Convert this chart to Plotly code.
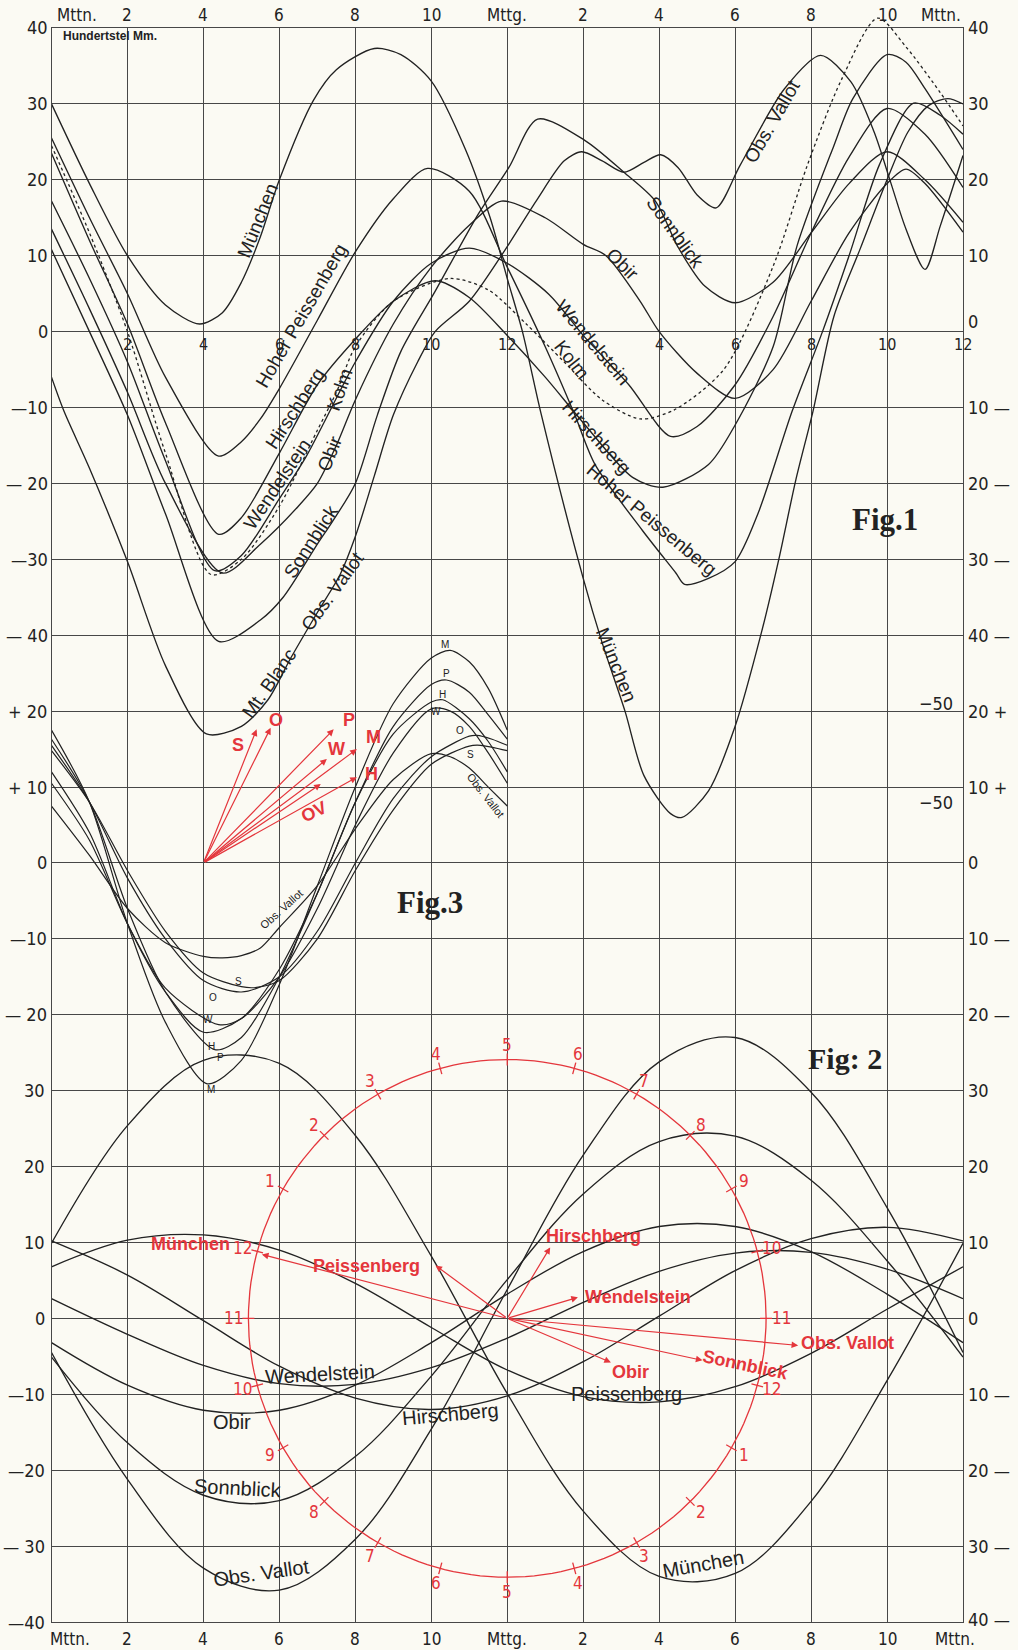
import math
import plotly.graph_objects as go

# ---------------- canvas / ruled grid geometry ----------------
W, H = 1018, 1650
X0_PX, X24_PX = 51.5, 963.0          # pixel x of 0 h and 24 h
TOP_PX, BOT_PX = 28.0, 1622.0        # top and bottom ruled line
PX_H = (X24_PX - X0_PX) / 24.0       # pixels per hour
PX_U = (BOT_PX - TOP_PX) / 210.0     # pixels per unit (21 intervals of 10)
OVERSHOOT_PX = 20.0                  # room above the top line for the dotted Kolm curve

F1_RANGE = [-170, 40]    # Fig. 1 scale (top)
F3_RANGE = [-100, 110]   # Fig. 3 scale (middle)
F2_RANGE = [-40, 170]    # Fig. 2 scale (bottom)

INK = "#222222"
GRID = "#474747"
RED = "#e4363c"
PAPER = "#fbfaf3"
SANS = "Liberation Sans Narrow, DejaVu Sans Condensed, Liberation Sans, Arial, sans-serif"
SANS_W = "Liberation Sans, Arial, sans-serif"
SERIF = "Liberation Serif, DejaVu Serif, serif"

# ---------------- Fig. 1 : daily course (hundredths of mm) ----------------
F1_MUENCHEN_T = [0, 1, 2, 3, 3.9, 4.5, 5, 5.5, 6, 6.9, 7.5, 8.5, 9.2, 10, 10.9, 11.55, 12, 12.4, 12.9, 14, 14.5,
                 15.1, 15.6, 16.3, 16.6, 17.3, 18, 18.7, 19.15, 19.6, 20.05, 20.6, 21.3, 22, 22.55, 23.1, 23.6, 24]
F1_MUENCHEN_V = [30, 19.5, 10, 3.5, 1.0, 2.5, 6.5, 12.5, 20, 30.5, 34.5, 37.3, 36.5, 33, 24, 15, 7, 0, -11, -32.5, -41,
                 -50, -58.5, -63.5, -64, -60.5, -52, -39.5, -30, -19.5, -10.5, 2, 11, 20, 26.3, 29.8, 30.7, 30]

F1_PEISS_T = [0, 1, 2, 3, 4.4, 5, 5.5, 6, 7, 8, 9, 9.9, 11, 12, 13, 13.78, 14.31, 15.56, 16.44, 16.67, 17.3, 18,
              18.6, 19.5, 20.3, 21, 21.8, 22.7, 23.4, 24]
F1_PEISS_V = [25.5, 15, 5, -6, -16.4, -14.5, -11.5, -7.5, 1.5, 10.5, 17.5, 21.5, 18.5, 8.5, -2, -11, -17.5, -26.2,
              -31.8, -33.3, -32.5, -30.3, -24, -10.5, 0, 10, 22, 30.1, 28.5, 26]

F1_HIRSCH_T = [0, 1, 2, 3, 4.4, 5, 6, 7, 8, 9, 10.1, 11, 12, 13, 14, 15.3, 16.1, 17.3, 18, 19, 19.63, 20.6, 21.1,
               22, 22.5, 23, 24]
F1_HIRSCH_V = [23.5, 12, 1, -12, -26.7, -24.5, -16, -7, -1, 4, 6.7, 4.5, -0.5, -6, -12, -19.2, -20.5, -17.5, -12.3,
               -2, 11.3, 24.5, 30.7, 36.5, 35.5, 32, 24]

F1_WENDEL_T = [0, 1, 2, 3, 4.3, 5, 6, 6.7, 8, 9, 10, 11, 12, 13.1, 14, 15.2, 16.3, 17, 18, 19, 20, 21, 22, 23, 24]
F1_WENDEL_V = [17.2, 7, -4, -17, -31.5, -29.5, -22, -16.5, -4, 4, 9, 11, 9, 4.9, -0.5, -7, -13.8, -12.5, -7, 2, 13,
               23, 29.4, 26, 19]

F1_KOLM_T = [0, 1, 2, 3, 4.2, 5, 6, 7, 7.5, 8, 9, 10.5, 11.5, 12.5, 13.5, 14.5, 15.5, 16.4, 17.7, 19, 19.9, 20.8,
             21.75, 22.5, 23.4, 24]
F1_KOLM_V = [24.5, 13, 0, -16, -32, -30, -23, -13, -8, -2, 4, 7, 5.5, 1, -4, -9, -11.5, -10.3, -5, 8.6, 21.9, 33.2,
             41.3, 37.5, 31.5, 27.1]

F1_OBIR_T = [0, 1, 2, 3, 4.5, 5.5, 6.5, 7, 7.5, 8, 9, 10, 11, 11.85, 13, 14, 14.6, 15.5, 16, 17, 18, 19, 20, 21, 22,
             22.5, 23, 24]
F1_OBIR_V = [13.5, 3, -8, -20, -31.8, -28, -23, -20, -15, -9, 1, 8.5, 14, 17.2, 15, 11.5, 10, 4, 0, -5.5, -8.8, -5,
             4, 13, 19.5, 21.4, 19.5, 13.1]

F1_SONN_T = [0, 1, 2, 3, 4.4, 5.5, 6.1, 7, 7.4, 8, 8.58, 9.2, 10.1, 11.24, 12.04, 12.8, 14.04, 15.07, 15.9, 16.5,
             17.2, 18, 19, 20, 21, 22, 23, 24]
F1_SONN_V = [10.8, 0, -11, -24, -40.8, -38, -35, -28, -25, -20, -11, -2.6, 5.3, 15.5, 21.6, 28, 25.2, 21, 17.2, 11.1,
             6, 3.8, 6.5, 13, 19.5, 23.7, 20, 14.4]

F1_VALLOT_T = [0, 0.33, 1, 2, 3, 4.08, 5, 5.7, 6.3, 7, 7.6, 8, 8.5, 9, 9.64, 10.1, 11, 11.87, 12.76, 13.5, 13.96,
               14.5, 15.07, 15.6, 16.04, 16.5, 17, 17.5, 18.13, 19.3, 20.25, 21.05, 21.66, 22.1, 22.5, 23, 23.4, 24]
F1_VALLOT_V = [-6, -10.5, -18, -30.3, -44, -53, -52, -48.5, -43, -37, -32, -27, -19, -11, -4, 0, 4, 10.2, 17.2, 22.5,
               23.7, 22.5, 21, 22.3, 23.3, 21.6, 18, 16.3, 21.9, 32, 36.4, 32.9, 26.3, 19.6, 13.5, 8.2, 13.9, 23.2]

# ---------------- Fig. 3 : half-day wave (0..12 h) ----------------
F3_M_T = [0, 1, 2, 3, 4.1, 5, 6, 7, 8, 9, 10, 10.5, 11, 11.5, 12]
F3_M_V = [17.5, 8, -8, -21, -29.1, -26, -16, -3, 10, 21, 27, 28, 26.5, 23, 17.5]
F3_P_T = [0, 1, 2, 3, 4.3, 5, 6, 7, 8, 9, 10, 10.4, 11, 11.5, 12]
F3_P_V = [16.3, 8, -6, -17, -24.6, -23, -15, -4, 8, 18, 23.5, 24.1, 22.5, 19.5, 16.3]
F3_H_T = [0, 1, 2, 3, 4.0, 5, 6, 7, 8, 9, 10, 10.3, 11, 11.5, 12]
F3_H_V = [12, 4, -8, -17, -22.3, -20.5, -14, -4, 8, 17, 21.2, 21.5, 19, 16, 12]
F3_W_T = [0, 1, 2, 3, 4.4, 5, 6, 7, 8, 9, 10, 10.5, 11, 11.5, 12]
F3_W_V = [10.5, 3, -8, -16.5, -21.3, -20.5, -15, -6, 5, 14.5, 20.3, 20, 18, 14.5, 10.5]
F3_O_T = [0, 1, 2, 3, 4, 5, 6, 7, 8, 9, 10, 11, 11.2, 11.6, 12]
F3_O_V = [15.5, 8, -2, -10, -15.5, -17, -15, -9, 0, 8.5, 14, 16.7, 16.8, 16.3, 15.5]
F3_S_T = [0, 1, 2, 3, 4, 5, 5.4, 6, 7, 8, 9, 10, 11, 11.3, 12]
F3_S_V = [14.8, 8, -1, -9, -14.5, -16.3, -16.4, -15.5, -10, -1, 7, 13, 15.4, 15.5, 14.8]
F3_OV_T = [0, 1, 2, 3, 4, 4.5, 5, 5.5, 6, 7, 8, 9, 10, 10.5, 11, 11.5, 12]
F3_OV_V = [7.5, 1, -6, -10.5, -12.3, -12.5, -12.2, -11.2, -8.5, -3, 4.5, 11, 14.4, 14, 12.5, 10, 7.5]

# red vectors of Fig. 3 (from 4 h / 0), tips and letters
F3_VEC_ORIGIN = (4.0, 0.0)
F3_VEC_NAMES = ["S", "O", "P", "W", "OV", "M", "H"]
F3_VEC_TIP_H = [5.40, 5.77, 7.43, 7.25, 7.09, 8.04, 8.04]
F3_VEC_TIP_V = [17.6, 17.8, 17.6, 13.7, 10.4, 15.0, 11.3]
F3_VEC_LAB_H = [4.92, 5.90, 7.83, 7.51, 6.90, 8.49, 8.43]
F3_VEC_LAB_V = [15.5, 18.8, 18.8, 15.0, 6.7, 16.6, 11.7]

# ---------------- Fig. 2 : whole-day wave ----------------
F2_T = [0, 2, 4, 6, 8, 10, 12, 14, 16, 18, 20, 22, 24]
F2_MUENCHEN = [9.9, 25.4, 34.0, 33.6, 24.1, 8.2, -9.9, -25.4, -34.0, -33.6, -24.1, -8.2, 9.9]
F2_PEISS = [6.8, 10.3, 11.0, 9.0, 4.6, -1.2, -6.8, -10.3, -11.0, -9.0, -4.6, 1.2, 6.8]
F2_HIRSCH = [10.2, 5.7, -0.3, -6.3, -10.5, -12.0, -10.2, -5.7, 0.3, 6.3, 10.5, 12.0, 10.2]
F2_WENDEL = [2.6, -2.1, -6.2, -8.6, -8.7, -6.5, -2.6, 2.1, 6.2, 8.6, 8.7, 6.5, 2.6]
F2_OBIR = [-3.2, -8.8, -12.1, -12.1, -8.8, -3.2, 3.2, 8.8, 12.1, 12.1, 8.8, 3.2, -3.2]
F2_SONN = [-5.1, -16.4, -23.3, -24.0, -18.2, -7.6, 5.1, 16.4, 23.3, 24.0, 18.2, 7.6, -5.1]
F2_VALLOT = [-4.5, -21.2, -32.9, -35.8, -29.1, -14.6, 3.8, 21.5, 33.8, 37.0, 29.8, 14.6, -4.5]

# red vectors of Fig. 2 (from 12 h / 0)
F2_VEC_ORIGIN = (12.0, 0.0)
F2_VEC_NAMES = ["Hirschberg", "Wendelstein", "Peissenberg", "Obir", "Sonnblick", "Obs. Vallot", "München"]
F2_VEC_TIP_H = [13.13, 13.86, 10.11, 14.73, 17.14, 19.66, 5.54]
F2_VEC_TIP_V = [9.35, 2.77, 6.98, -5.8, -5.53, -3.56, 8.43]
F2_VEC_LAB_H = [14.26, 15.44, 8.30, 15.24, 18.28, 20.96, 3.65]
F2_VEC_LAB_V = [10.9, 2.8, 6.9, -7.0, -6.2, -3.2, 9.8]
F2_VEC_LAB_ANG = [0, 0, 0, 0, 12, 0, 0]

# clock circle of Fig. 2
CLOCK_R = 34.1                     # radius in Fig. 2 units
CLOCK_LABELS = ["5", "4", "3", "2", "1", "12", "11", "10", "9", "8", "7", "6",
                "5", "4", "3", "2", "1", "12", "11", "10", "9", "8", "7", "6"]   # from top, counter-clockwise

# ---------------- axis texts ----------------
HOUR_TICKS = [0, 2, 4, 6, 8, 10, 12, 14, 16, 18, 20, 22, 24]
HOUR_TEXT = ["Mttn.", "2", "4", "6", "8", "10", "Mttg.", "2", "4", "6", "8", "10", "Mttn."]
F1_MID_H = [2, 4, 6, 8, 10, 12, 16, 18, 20, 22, 24]
F1_MID_TEXT = ["2", "4", "6", "8", "10", "12", "4", "6", "8", "10", "12"]

LEFT_F1_V = [40, 30, 20, 10, 0, -10, -20, -30, -40]
LEFT_F1_T = ["40", "30", "20", "10", "0", "—10", "— 20", "—30", "— 40"]
LEFT_F3_V = [20, 10, 0, -10, -20]
LEFT_F3_T = ["+ 20", "+ 10", "0", "—10", "— 20"]
LEFT_F2_V = [30, 20, 10, 0, -10, -20, -30, -40]
LEFT_F2_T = ["30", "20", "10", "0", "—10", "—20", "— 30", "—40"]
RIGHT_F1_V = [40, 30, 20, 10, -10, -20, -30, -40]
RIGHT_F1_T = ["40", "30", "20", "10", "10 —", "20 —", "30 —", "40 —"]
RIGHT_F3_V = [20, 10, 0, -10, -20]
RIGHT_F3_T = ["20 +", "10 +", "0", "10 —", "20 —"]
RIGHT_F2_V = [30, 20, 10, 0, -10, -20, -30, -40]
RIGHT_F2_T = ["30", "20", "10", "0", "10 —", "20 —", "30 —", "40 —"]

F1_CURVE_LABELS = [
    ("München", 5.42, 14.7, -68), ("Hoher Peissenberg", 6.58, 2.1, -60), ("Hirschberg", 6.41, -10.1, -57),
    ("Kolm", 7.57, -7.7, -71), ("Wendelstein", 5.93, -20.1, -56), ("Obir", 7.32, -16.0, -68),
    ("Sonnblick", 6.84, -27.7, -57), ("Obs. Vallot", 7.40, -34.3, -54), ("Mt. Blanc", 5.73, -46.4, -55),
    ("Obs. Vallot", 18.97, 27.7, -60), ("Sonnblick", 16.43, 13.1, 54), ("Obir", 15.04, 8.8, 45),
    ("Wendelstein", 14.26, -1.4, 50), ("Kolm", 13.69, -3.7, 52), ("Hirschberg", 14.36, -13.9, 48),
    ("Hoher Peissenberg", 15.80, -24.8, 40), ("München", 14.86, -43.9, 68),
]
F3_CURVE_LABELS = [
    ("M", 10.37, 28.8, 0), ("P", 10.40, 24.9, 0), ("H", 10.30, 22.2, 0), ("W", 10.13, 19.9, 0),
    ("O", 10.76, 17.5, 0), ("S", 11.03, 14.3, 0), ("Obs. Vallot", 11.42, 8.9, 52),
    ("Obs. Vallot", 6.06, -6.1, -42), ("S", 4.92, -15.6, 0), ("O", 4.26, -17.7, 0), ("W", 4.13, -20.6, 0),
    ("H", 4.21, -24.2, 0), ("P", 4.45, -25.6, 0), ("M", 4.21, -29.8, 0),
]
F2_CURVE_LABELS = [
    ("München", 17.15, -32.3, -10), ("Obs. Vallot", 5.52, -33.6, -8), ("Sonnblick", 4.90, -22.4, 3),
    ("Obir", 4.76, -13.7, 0), ("Wendelstein", 7.07, -7.3, -3), ("Hirschberg", 10.50, -12.6, -5),
    ("Peissenberg", 15.13, -9.9, 0),
]

# ---------------- build figure ----------------
fig = go.Figure()


def curve(t, v, yaxis, dash="solid", width=1.35, color=INK, smooth=0.8, xaxis="x"):
    fig.add_trace(go.Scatter(x=t, y=v, xaxis=xaxis, yaxis=yaxis, mode="lines", hoverinfo="skip",
                             showlegend=False,
                             line=dict(color=color, width=width, dash=dash, shape="spline", smoothing=smooth)))


for t, v in [(F1_MUENCHEN_T, F1_MUENCHEN_V), (F1_PEISS_T, F1_PEISS_V), (F1_HIRSCH_T, F1_HIRSCH_V),
             (F1_WENDEL_T, F1_WENDEL_V), (F1_OBIR_T, F1_OBIR_V), (F1_SONN_T, F1_SONN_V),
             (F1_VALLOT_T, F1_VALLOT_V)]:
    curve(t, v, "y")
# Kolm rises above the top ruled line: separate, taller (invisible) axis pair with identical scale
curve(F1_KOLM_T, F1_KOLM_V, "y4", dash="dot", width=1.3, xaxis="x2")

for t, v in [(F3_M_T, F3_M_V), (F3_P_T, F3_P_V), (F3_H_T, F3_H_V), (F3_W_T, F3_W_V), (F3_O_T, F3_O_V),
             (F3_S_T, F3_S_V), (F3_OV_T, F3_OV_V)]:
    curve(t, v, "y2", width=1.2)

for v in [F2_MUENCHEN, F2_PEISS, F2_HIRSCH, F2_WENDEL, F2_OBIR, F2_SONN, F2_VALLOT]:
    curve(F2_T, v, "y3", smooth=1.0)

# clock circle (Fig. 2 units; x radius converted through pixel scale)
rx = CLOCK_R * PX_U / PX_H
cx0, cy0 = F2_VEC_ORIGIN
circ_x = [cx0 + rx * math.cos(math.radians(a)) for a in range(0, 361, 2)]
circ_y = [cy0 + CLOCK_R * math.sin(math.radians(a)) for a in range(0, 361, 2)]
fig.add_trace(go.Scatter(x=circ_x, y=circ_y, yaxis="y3", mode="lines", hoverinfo="skip", showlegend=False,
                         line=dict(color=RED, width=1.3)))
tick_x, tick_y = [], []
for k in range(len(CLOCK_LABELS)):
    a = math.radians(90 + 15 * k)
    for rp in (-6, 6):
        r_u = CLOCK_R + rp / PX_U
        tick_x.append(cx0 + r_u * PX_U / PX_H * math.cos(a))
        tick_y.append(cy0 + r_u * math.sin(a))
    tick_x.append(None)
    tick_y.append(None)
fig.add_trace(go.Scatter(x=tick_x, y=tick_y, yaxis="y3", mode="lines", hoverinfo="skip", showlegend=False,
                         line=dict(color=RED, width=1.3)))

ann = []


def txt(x, y, s, yref="y", size=18, color=INK, angle=0, xanchor="center", yanchor="middle",
        family=SANS, xshift=0, yshift=0):
    ann.append(dict(x=x, y=y, xref="x", yref=yref, text=s, showarrow=False, textangle=angle,
                    font=dict(size=size, color=color, family=family), xanchor=xanchor, yanchor=yanchor,
                    xshift=xshift, yshift=yshift))


# top / bottom hour labels (outside the plotting range -> paper y)
top_y = 1 - 15.0 / H
bot_y = 1 - 1639.0 / H
for i, (h, s) in enumerate(zip(HOUR_TICKS, HOUR_TEXT)):
    if i == 0:
        txt(h, top_y, s, yref="paper", xanchor="left", xshift=3, size=17)
        txt(h, bot_y, s, yref="paper", xanchor="left", xshift=-4, size=17)
    elif i == len(HOUR_TICKS) - 1:
        txt(h, top_y, s, yref="paper", xanchor="right", size=17)
        txt(h, bot_y, s, yref="paper", xanchor="right", xshift=14, size=17)
    else:
        txt(h, top_y, s, yref="paper", size=17)
        txt(h, bot_y, s, yref="paper", size=17)
for h, s in zip(F1_MID_H, F1_MID_TEXT):
    txt(h, -1.7, s, size=16)

# left and right scale numbers
for v, s in zip(LEFT_F1_V, LEFT_F1_T):
    txt(0, v, s, xanchor="right", xshift=-2)
for v, s in zip(LEFT_F3_V, LEFT_F3_T):
    txt(0, v, s, yref="y2", xanchor="right", xshift=-3)
for v, s in zip(LEFT_F2_V, LEFT_F2_T):
    txt(0, v, s, yref="y3", xanchor="right", xshift=-5)
for v, s in zip(RIGHT_F1_V, RIGHT_F1_T):
    txt(24, v, s, xanchor="left", xshift=3)
txt(24, 1.3, "0", xanchor="left", xshift=3)
for v, s in zip(RIGHT_F3_V, RIGHT_F3_T):
    txt(24, v, s, yref="y2", xanchor="left", xshift=3)
for v, s in zip(RIGHT_F2_V, RIGHT_F2_T):
    txt(24, v, s, yref="y3", xanchor="left", xshift=3, yshift=3 if v == -40 else 0)
txt(24, -49.0, "−50", xanchor="right", xshift=-8)
txt(24, 8.0, "−50", yref="y2", xanchor="right", xshift=-8)
txt(0, 38.9, "<b>Hundertstel Mm.</b>", size=12, xanchor="left", xshift=9, family=SANS_W)

# figure titles
txt(21.95, -24.8, "<b>Fig.1</b>", size=31, family=SERIF)
txt(9.96, -5.2, "<b>Fig.3</b>", yref="y2", size=31, family=SERIF)
txt(20.9, 34.2, "<b>Fig: 2</b>", yref="y3", size=30, family=SERIF)

# curve names
for s, h, v, a in F1_CURVE_LABELS:
    txt(h, v, s, size=19, angle=a, family=SANS_W)
for s, h, v, a in F3_CURVE_LABELS:
    txt(h, v, s, yref="y2", size=10 if len(s) < 3 else 11, angle=a, family=SANS_W)
for s, h, v, a in F2_CURVE_LABELS:
    txt(h, v, s, yref="y3", size=20, angle=a, family=SANS_W)

# red vectors Fig. 3
ox, oy = F3_VEC_ORIGIN
for n, th, tv, lh, lv in zip(F3_VEC_NAMES, F3_VEC_TIP_H, F3_VEC_TIP_V, F3_VEC_LAB_H, F3_VEC_LAB_V):
    ann.append(dict(x=th, y=tv, xref="x", yref="y2", ax=ox, ay=oy, axref="x", ayref="y2", text="",
                    showarrow=True, arrowhead=2, arrowsize=1.1, arrowwidth=1.2, arrowcolor=RED))
    txt(lh, lv, "<b>%s</b>" % n, yref="y2", size=18, color=RED, family=SANS_W, angle=-25 if n == "OV" else 0)

# red vectors Fig. 2
ox, oy = F2_VEC_ORIGIN
for n, th, tv, lh, lv, la in zip(F2_VEC_NAMES, F2_VEC_TIP_H, F2_VEC_TIP_V, F2_VEC_LAB_H, F2_VEC_LAB_V,
                                 F2_VEC_LAB_ANG):
    ann.append(dict(x=th, y=tv, xref="x", yref="y3", ax=ox, ay=oy, axref="x", ayref="y3", text="",
                    showarrow=True, arrowhead=2, arrowsize=1.1, arrowwidth=1.2, arrowcolor=RED))
    txt(lh, lv, "<b>%s</b>" % n, yref="y3", size=18, color=RED, family=SANS_W, angle=la)

# clock numbers
for k, s in enumerate(CLOCK_LABELS):
    a = math.radians(90 + 15 * k)
    r_u = CLOCK_R + 15 / PX_U
    txt(cx0 + r_u * PX_U / PX_H * math.cos(a), cy0 + r_u * math.sin(a), s, yref="y3", size=17,
        color=RED, family=SANS)

dom_x = [X0_PX / W, X24_PX / W]
dom_y = [1 - BOT_PX / H, 1 - TOP_PX / H]
fig.update_layout(
    width=W, height=H, margin=dict(l=0, r=0, t=0, b=0),
    paper_bgcolor=PAPER, plot_bgcolor="rgba(0,0,0,0)", showlegend=False, annotations=ann,
    xaxis=dict(domain=dom_x, range=[0, 24], tickmode="linear", tick0=0, dtick=2,
               showgrid=True, gridcolor=GRID, gridwidth=1, showticklabels=False, ticks="", zeroline=False,
               showline=True, linecolor=GRID, linewidth=1, mirror=True, fixedrange=True),
    yaxis=dict(domain=dom_y, range=F1_RANGE, tickmode="linear", tick0=0, dtick=10,
               showgrid=True, gridcolor=GRID, gridwidth=1, showticklabels=False, ticks="", zeroline=False,
               showline=True, linecolor=GRID, linewidth=1, mirror=True, fixedrange=True),
    yaxis2=dict(overlaying="y", anchor="x", range=F3_RANGE, visible=False, showgrid=False, zeroline=False,
                fixedrange=True),
    yaxis3=dict(overlaying="y", anchor="x", range=F2_RANGE, visible=False, showgrid=False, zeroline=False,
                fixedrange=True),
    xaxis2=dict(domain=dom_x, range=[0, 24], anchor="y4", visible=False, showgrid=False, zeroline=False,
                fixedrange=True),
    yaxis4=dict(domain=[dom_y[0], 1 - (TOP_PX - OVERSHOOT_PX) / H],
                range=[F1_RANGE[0], F1_RANGE[1] + OVERSHOOT_PX / PX_U], anchor="x2", visible=False,
                showgrid=False, zeroline=False, fixedrange=True),
)

fig.write_html("out.html", config={"displayModeBar": False},
               post_script="document.body.style.margin='0px';document.body.style.padding='0px';")
